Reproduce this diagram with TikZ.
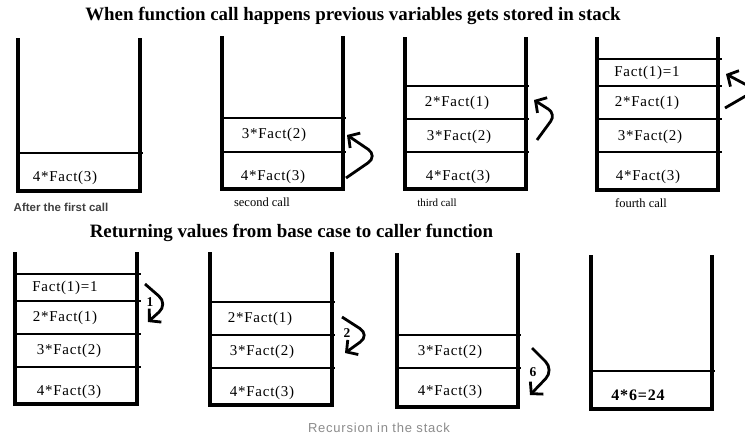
\documentclass[tikz,border=0pt]{standalone}
\usepackage{fontspec}
\setmainfont{Liberation Serif}
\newfontfamily\cellfont[LetterSpace=5]{Liberation Serif}
\newfontfamily\capsans{Liberation Sans}
\newfontfamily\capsansls[LetterSpace=6]{Liberation Sans}
\usetikzlibrary{arrows.meta}
\begin{document}
\begin{tikzpicture}[x=1pt,y=-1pt,
  wall/.style={line width=3.2pt,line join=miter},
  divider/.style={line width=2.2pt},
  cell/.style={inner sep=0pt,font=\cellfont\fontsize{15}{17}\selectfont},
  bigcell/.style={inner sep=0pt,font=\cellfont\bfseries\fontsize{16}{18}\selectfont},
  title/.style={inner sep=0pt,font=\bfseries\fontsize{18.9}{21}\selectfont},
  caption/.style={inner sep=0pt,font=\fontsize{12.5}{14}\selectfont},
  sanscap/.style={inner sep=0pt,text=black!75,font=\capsans\bfseries\fontsize{11.5}{13}\selectfont},
  footcap/.style={inner sep=0pt,text=black!45,font=\capsansls\fontsize{13}{15}\selectfont},
  callarrow/.style={line width=2.8pt,rounded corners=12pt,-{Straight Barb[length=8pt,width=18pt]}},
  retlabel/.style={inner sep=0pt,font=\bfseries\fontsize{13.5}{15}\selectfont},
]
\useasboundingbox (0,0) rectangle (745,434);
\clip (0,0) rectangle (745,434);
\fill[white] (0,0) rectangle (745,434);

% titles
\node[title] (t1) at (353,16) {When function call happens previous variables gets stored in stack};
\node[title] (t2) at (291.5,233) {Returning values from base case to caller function};

% ---------- stack 1
\draw[wall] (18,38) -- (18,191) -- (140,191) -- (140,38);
\draw[divider] (18,153) -- (143,153);
\node[cell] (s1a) at (65,178) {4*Fact(3)};
\node[sanscap] (cap1) at (61,207) {After the first call};

% ---------- stack 2
\draw[wall] (222,36) -- (222,189) -- (343,189) -- (343,36);
\draw[divider] (222,118) -- (346,118);
\draw[divider] (222,152) -- (346,152);
\node[cell] (s2b) at (274,135) {3*Fact(2)};
\node[cell] (s2a) at (273,177) {4*Fact(3)};
\node[caption] (cap2) at (262,202) {second call};
\coordinate (a2t) at (346,178);
\coordinate (a2m) at (378,156);
\coordinate (a2h) at (347,135);
\draw[callarrow] (a2t) -- (a2m) -- (a2h);

% ---------- stack 3
\draw[wall] (405,37) -- (405,189) -- (526,189) -- (526,37);
\draw[divider] (405,86) -- (529,86);
\draw[divider] (405,119) -- (529,119);
\draw[divider] (405,152) -- (529,152);
\node[cell] (s3c) at (457,103) {2*Fact(1)};
\node[cell] (s3b) at (459,137) {3*Fact(2)};
\node[cell] (s3a) at (458,177) {4*Fact(3)};
\node[caption,font=\fontsize{11}{13}\selectfont] (cap3) at (437,203) {third call};
\coordinate (a3t) at (537,140);
\coordinate (a3m) at (556,114);
\coordinate (a3h) at (534,100);
\draw[callarrow,rounded corners=9pt] (a3t) -- (a3m) -- (a3h);

% ---------- stack 4
\draw[wall] (597,37) -- (597,190) -- (718,190) -- (718,37);
\draw[divider] (597,59) -- (722,59);
\draw[divider] (597,86) -- (722,86);
\draw[divider] (597,119) -- (722,119);
\draw[divider] (597,152) -- (722,152);
\node[cell] (s4d) at (647,73) {Fact(1)=1};
\node[cell] (s4c) at (647,103) {2*Fact(1)};
\node[cell] (s4b) at (650,137) {3*Fact(2)};
\node[cell] (s4a) at (648,177) {4*Fact(3)};
\node[caption] (cap4) at (641,203) {fourth call};
\coordinate (a4t) at (725,108);
\coordinate (a4m) at (756,90);
\coordinate (a4h) at (726,74);
\draw[callarrow,rounded corners=9pt] (a4t) -- (a4m) -- (a4h);

% ---------- stack 5
\draw[wall] (15,252) -- (15,404) -- (137,404) -- (137,252);
\draw[divider] (15,274) -- (141,274);
\draw[divider] (15,301) -- (141,301);
\draw[divider] (15,334) -- (141,334);
\draw[divider] (15,367) -- (141,367);
\node[cell] (s5d) at (65,288) {Fact(1)=1};
\node[cell] (s5c) at (65,318) {2*Fact(1)};
\node[cell] (s5b) at (69,351) {3*Fact(2)};
\node[cell] (s5a) at (69,392) {4*Fact(3)};
\coordinate (a5t) at (145,284);
\coordinate (a5m) at (168,304);
\coordinate (a5h) at (148,322);
\draw[callarrow] (a5t) -- (a5m) -- (a5h);
\node[retlabel] (r1) at (150,302) {1};

% ---------- stack 6
\draw[wall] (210,252) -- (210,405) -- (332,405) -- (332,252);
\draw[divider] (210,302) -- (335,302);
\draw[divider] (210,335) -- (335,335);
\draw[divider] (210,368) -- (335,368);
\node[cell] (s6c) at (260,319) {2*Fact(1)};
\node[cell] (s6b) at (262,352) {3*Fact(2)};
\node[cell] (s6a) at (262,393) {4*Fact(3)};
\coordinate (a6t) at (342,317);
\coordinate (a6m) at (370,335);
\coordinate (a6h) at (345,353);
\draw[callarrow] (a6t) -- (a6m) -- (a6h);
\node[retlabel] (r2) at (347,333) {2};

% ---------- stack 7
\draw[wall] (397,253) -- (397,407) -- (518,407) -- (518,253);
\draw[divider] (397,335) -- (521,335);
\draw[divider] (397,368) -- (521,368);
\node[cell] (s7b) at (450,352) {3*Fact(2)};
\node[cell] (s7a) at (450,392) {4*Fact(3)};
\coordinate (a7t) at (532,348);
\coordinate (a7m) at (554,370);
\coordinate (a7h) at (530,395);
\draw[callarrow] (a7t) -- (a7m) -- (a7h);
\node[retlabel] (r6) at (533,372) {6};

% ---------- stack 8
\draw[wall] (591,255) -- (591,409) -- (712,409) -- (712,255);
\draw[divider] (591,371) -- (715,371);
\node[bigcell] (s8a) at (638,395) {4*6=24};

% footer
\node[footcap] (foot) at (379,428) {Recursion in the stack};
\end{tikzpicture}
\end{document}
